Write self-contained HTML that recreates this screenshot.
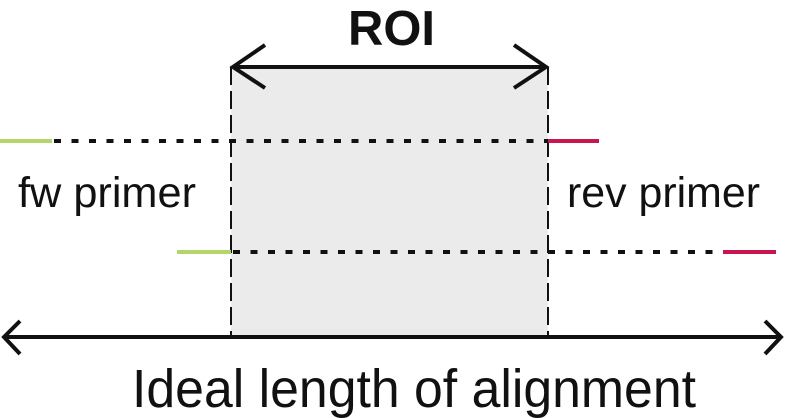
<!DOCTYPE html>
<html><head><meta charset="utf-8"><style>
html,body{margin:0;padding:0;background:#fff;width:785px;height:418px;overflow:hidden}
svg{display:block}
text{font-family:"Liberation Sans",sans-serif;fill:#111}
</style></head><body>
<svg width="785" height="418" viewBox="0 0 785 418">
<rect x="231" y="67" width="317" height="268" fill="#ebebeb"/>
<line x1="231" y1="67" x2="231" y2="335" stroke="#111" stroke-width="2" stroke-dasharray="18,6"/>
<line x1="548" y1="67" x2="548" y2="335" stroke="#111" stroke-width="2" stroke-dasharray="18,6"/>
<line x1="233" y1="67" x2="546" y2="67" stroke="#111" stroke-width="4"/>
<polyline points="265,45 233,67 265,88" fill="none" stroke="#111" stroke-width="4"/>
<polyline points="514,45 546,67 514,88" fill="none" stroke="#111" stroke-width="4"/>
<text x="348" y="45" font-size="49" font-weight="bold" textLength="87" lengthAdjust="spacingAndGlyphs">ROI</text>
<line x1="0" y1="141" x2="52" y2="141" stroke="#b5d56a" stroke-width="4"/>
<line x1="54" y1="141" x2="548" y2="141" stroke="#111" stroke-width="4" stroke-dasharray="7,10.5"/>
<line x1="548" y1="141" x2="599" y2="141" stroke="#c8174f" stroke-width="4"/>
<line x1="177" y1="252" x2="231" y2="252" stroke="#b5d56a" stroke-width="4"/>
<line x1="233" y1="252" x2="723" y2="252" stroke="#111" stroke-width="4" stroke-dasharray="7,10.5"/>
<line x1="723" y1="252" x2="776" y2="252" stroke="#c8174f" stroke-width="4"/>
<text x="18" y="207" font-size="43" textLength="178" lengthAdjust="spacingAndGlyphs">fw primer</text>
<text x="567" y="207" font-size="43" textLength="193" lengthAdjust="spacingAndGlyphs">rev primer</text>
<line x1="4" y1="337" x2="781" y2="337" stroke="#111" stroke-width="4"/>
<polyline points="20,321 4,337 20,354" fill="none" stroke="#111" stroke-width="4"/>
<polyline points="765,321 781,337 765,354" fill="none" stroke="#111" stroke-width="4"/>
<text x="132" y="407" font-size="54" textLength="564" lengthAdjust="spacingAndGlyphs">Ideal length of alignment</text>
</svg>
</body></html>
